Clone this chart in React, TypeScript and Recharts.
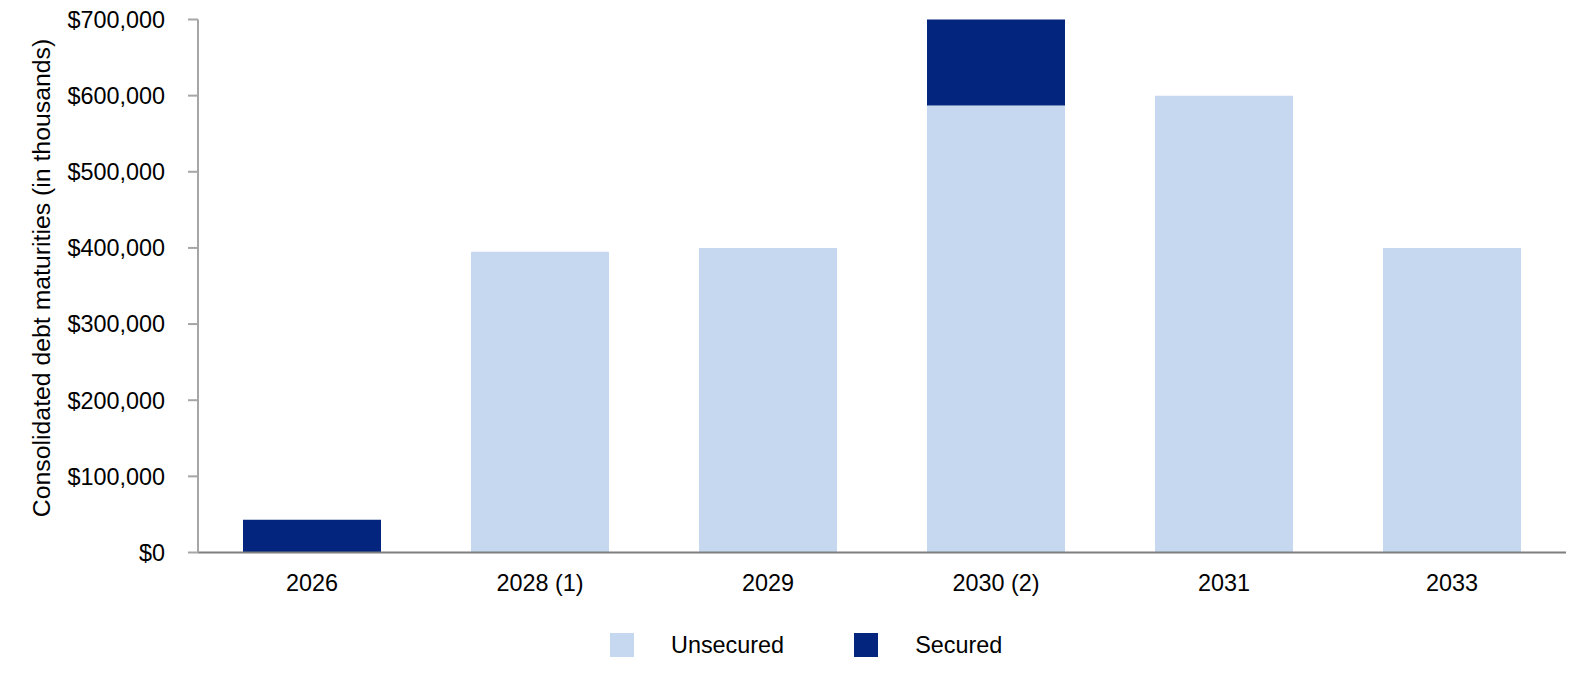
import React from 'react';
import { BarChart, Bar, XAxis, YAxis, Legend } from 'recharts';

const years = ['2026', '2028 (1)', '2029', '2030 (2)', '2031', '2033'];
const unsecured = [0, 395000, 400000, 587000, 600000, 400000];
const secured = [43000, 0, 0, 113000, 0, 0];
const yTicks = [0, 100000, 200000, 300000, 400000, 500000, 600000, 700000];

const LIGHT = '#C5D8EF';
const DARK = '#03257D';
const FONT = '"Liberation Sans", Arial, sans-serif';

const data = years.map((year, i) => ({
  year,
  unsecured: unsecured[i],
  secured: secured[i],
}));

const fmt = (v: number) => '$' + v.toLocaleString('en-US');

function LegendBox() {
  const items = [
    { label: 'Unsecured', color: LIGHT },
    { label: 'Secured', color: DARK },
  ];
  return (
    <div style={{ display: 'flex', justifyContent: 'flex-start', alignItems: 'center', paddingLeft: 610, height: 40, fontFamily: FONT, fontSize: 23.4, color: '#000' }}>
      {items.map((it, i) => (
        <div key={it.label} style={{ display: 'flex', alignItems: 'center', marginLeft: i === 0 ? 0 : 70 }}>
          <span style={{ width: 24, height: 24, background: it.color, display: 'inline-block', marginRight: 37 }} />
          <span>{it.label}</span>
        </div>
      ))}
    </div>
  );
}

function YLabel(props: any) {
  const vb = props.viewBox;
  const cy = vb.y + vb.height / 2 - 8;
  return (
    <text
      x={41}
      y={cy}
      transform={`rotate(-90, 41, ${cy})`}
      textAnchor="middle"
      dominantBaseline="central"
      fontFamily={FONT}
      fontSize={24.8}
      fill="#000"
    >
      Consolidated debt maturities (in thousands)
    </text>
  );
}

export default function App() {
  return (
    <div style={{ position: 'absolute', left: 0, top: 0, background: '#fff' }}>
      <BarChart
        width={1586}
        height={690}
        data={data}
        margin={{ top: 19.5, right: 20, bottom: 67.5, left: 0 }}
      >
        <XAxis
          dataKey="year"
          tickLine={false}
          tickSize={0}
          tickMargin={22}
          axisLine={{ stroke: '#7F7F7F', strokeWidth: 2 }}
          tick={{ fill: '#000', fontSize: 23.4, fontFamily: FONT }}
          height={30}
        />
        <YAxis
          width={198}
          domain={[0, 700000]}
          ticks={yTicks}
          tickFormatter={fmt}
          tickSize={10}
          tickMargin={23}
          axisLine={{ stroke: '#A6A6A6', strokeWidth: 2 }}
          tickLine={{ stroke: '#A6A6A6', strokeWidth: 2 }}
          tick={{ fill: '#000', fontSize: 23.4, fontFamily: FONT }}
          interval={0}
          label={<YLabel />}
        />
        <Legend
          verticalAlign="bottom"
          height={40}
          content={<LegendBox />}
          wrapperStyle={{ left: 0, width: 1586, bottom: 25 }}
        />
        <Bar dataKey="unsecured" name="Unsecured" stackId="a" fill={LIGHT} barSize={138} isAnimationActive={false} />
        <Bar dataKey="secured" name="Secured" stackId="a" fill={DARK} barSize={138} isAnimationActive={false} />
      </BarChart>
    </div>
  );
}
